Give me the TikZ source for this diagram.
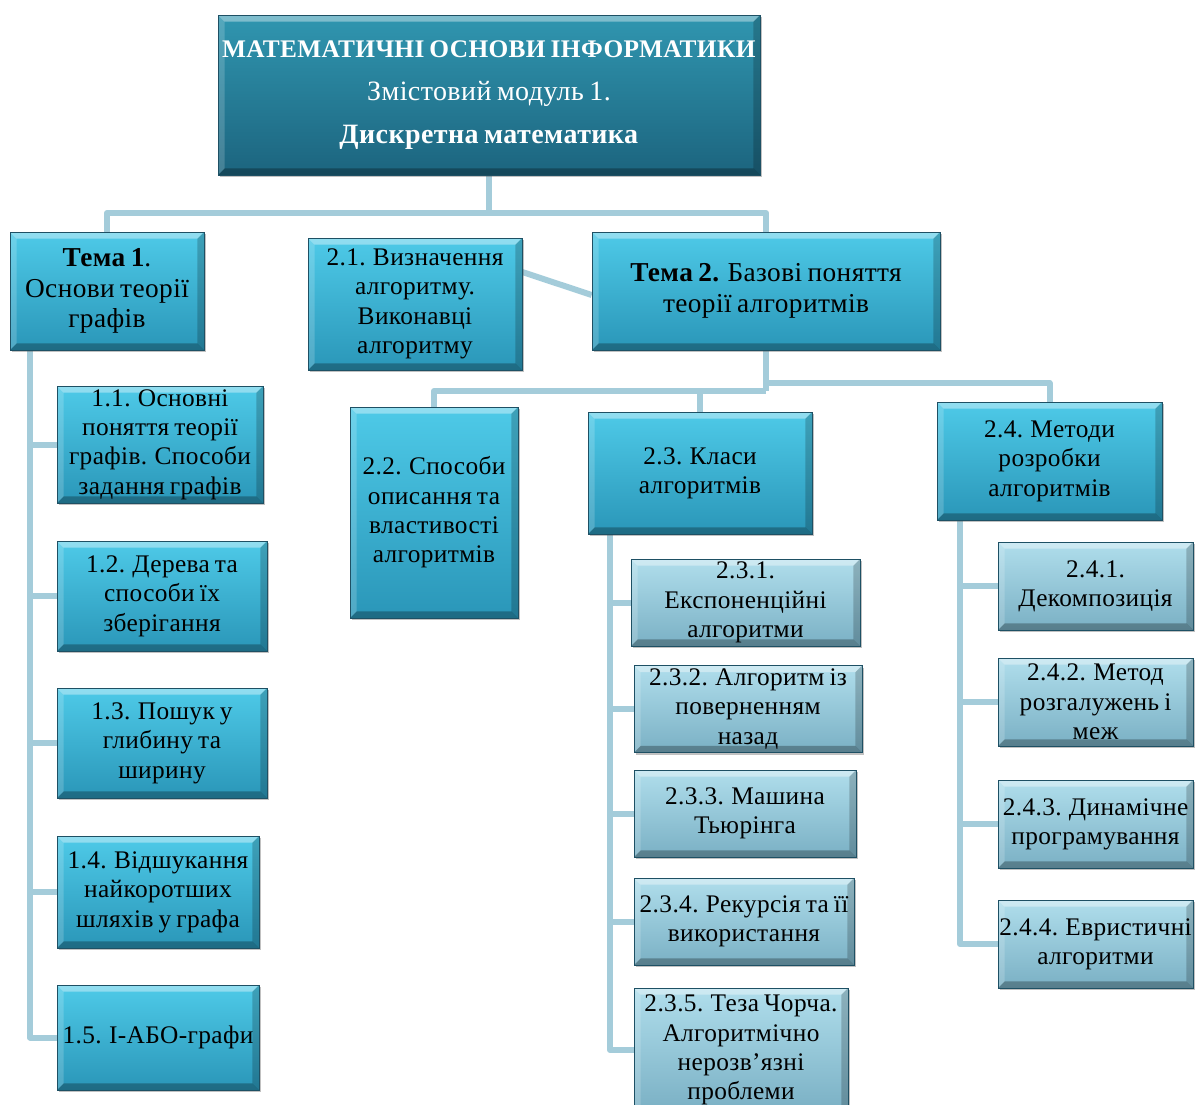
\documentclass[tikz,border=0pt]{standalone}
\usepackage{fontspec}
\setmainfont{Liberation Serif}[LetterSpace=1.5, WordSpace=0.75]
\usetikzlibrary{shadows,backgrounds}

\definecolor{darkTop}{RGB}{48,150,176}
\definecolor{darkBot}{RGB}{28,100,126}
\definecolor{midTop}{RGB}{78,202,232}
\definecolor{midBot}{RGB}{42,150,184}
\definecolor{lightTop}{RGB}{176,222,236}
\definecolor{lightBot}{RGB}{122,176,196}
\definecolor{connC}{RGB}{164,204,218}
\definecolor{edgeC}{RGB}{30,80,100}

\tikzset{
  sz/.style 2 args={minimum width=#1*0.75pt, minimum height=#2*0.75pt},
  bevel/.style={path picture={
    \fill[white,opacity=.38]
      (path picture bounding box.north west) -- (path picture bounding box.north east)
      -- ([shift={(-5pt,-5pt)}]path picture bounding box.north east)
      -- ([shift={(5pt,-5pt)}]path picture bounding box.north west) -- cycle;
    \fill[white,opacity=.18]
      (path picture bounding box.north west) -- (path picture bounding box.south west)
      -- ([shift={(5pt,5pt)}]path picture bounding box.south west)
      -- ([shift={(5pt,-5pt)}]path picture bounding box.north west) -- cycle;
    \fill[black,opacity=.28]
      (path picture bounding box.south west) -- (path picture bounding box.south east)
      -- ([shift={(-5pt,5pt)}]path picture bounding box.south east)
      -- ([shift={(5pt,5pt)}]path picture bounding box.south west) -- cycle;
    \fill[black,opacity=.2]
      (path picture bounding box.north east) -- (path picture bounding box.south east)
      -- ([shift={(-5pt,5pt)}]path picture bounding box.south east)
      -- ([shift={(-5pt,-5pt)}]path picture bounding box.north east) -- cycle;
  }},
  box/.style={rectangle, inner sep=0pt, align=center, text=black,
    draw=edgeC, line width=0.4pt,
    font=\fontsize{19}{22}\selectfont,
    drop shadow={shadow xshift=1.2pt, shadow yshift=-1.6pt, opacity=.35, fill=black!70},
    bevel},
  darkbox/.style={box, top color=darkTop, bottom color=darkBot, text=white,
    font=\fontsize{21}{32.5}\selectfont},
  midbox/.style={box, top color=midTop, bottom color=midBot},
  themebox/.style={midbox, font=\fontsize{20.5}{23}\selectfont},
  lightbox/.style={box, top color=lightTop, bottom color=lightBot},
  conn/.style={draw=connC, line width=4.5pt, line join=round},
}

\begin{document}
\begin{tikzpicture}[x=0.75pt, y=-0.75pt]
\useasboundingbox (0,0) rectangle (1195,1104);

% root
\node[darkbox, sz={542}{160}] (top) at (489,95)
  {{\fontsize{19}{32.5}\selectfont\textbf{МАТЕМАТИЧНІ ОСНОВИ ІНФОРМАТИКИ}}\\Змістовий модуль 1.\\\textbf{Дискретна математика}};

% themes
\node[themebox, sz={194}{118}] (t1) at (107,291) {\textbf{Тема 1}.\\Основи теорії\\графів};
\node[midbox, sz={214}{132}] (b21) at (415,304) {2.1. Визначення\\алгоритму.\\Виконавці\\алгоритму};
\node[themebox, sz={348}{118}] (t2) at (766,291) {\textbf{Тема 2.} Базові поняття\\теорії алгоритмів};

% topic 1
\node[midbox, sz={206}{117}] (b11) at (160,444.5) {1.1. Основні\\поняття теорії\\графів. Способи\\задання графів};
\node[midbox, sz={210}{110}] (b12) at (162,596) {1.2. Дерева та\\способи їх\\зберігання};
\node[midbox, sz={210}{110}] (b13) at (162,743) {1.3. Пошук у\\глибину та\\ширину};
\node[midbox, sz={202}{112}] (b14) at (158,892) {1.4. Відшукання\\найкоротших\\шляхів у графа};
\node[midbox, sz={202}{105}] (b15) at (158,1037.5) {1.5. І-АБО-графи};

% topic 2
\node[midbox, sz={168}{211}] (b22) at (434,512.5) {2.2. Способи\\описання та\\властивості\\алгоритмів};
\node[midbox, sz={224}{122}] (b23) at (700,473) {2.3. Класи\\алгоритмів};
\node[midbox, sz={225}{118}] (b24) at (1049.5,461) {2.4. Методи\\розробки\\алгоритмів};

% classes of algorithms
\node[lightbox, sz={229}{87}] (b231) at (745.5,602.5) {2.3.1.\\Експоненційні\\алгоритми};
\node[lightbox, sz={228}{87}] (b232) at (748,709) {2.3.2. Алгоритм із\\поверненням\\назад};
\node[lightbox, sz={222}{87}] (b233) at (745,813.5) {2.3.3. Машина\\Тьюрінга};
\node[lightbox, sz={220}{87}] (b234) at (744,921.5) {2.3.4. Рекурсія та її\\використання};
\node[lightbox, sz={214}{124}] (b235) at (741,1050) {2.3.5. Теза Чорча.\\Алгоритмічно\\нерозв’язні\\проблеми};

% design methods
\node[lightbox, sz={195}{88}] (b241) at (1095.5,586) {2.4.1.\\Декомпозиція};
\node[lightbox, sz={195}{88}] (b242) at (1095.5,702) {2.4.2. Метод\\розгалужень і\\меж};
\node[lightbox, sz={195}{88}] (b243) at (1095.5,824) {2.4.3. Динамічне\\програмування};
\node[lightbox, sz={195}{88}] (b244) at (1095.5,944) {2.4.4. Евристичні\\алгоритми};

% connectors
\begin{scope}[on background layer]
  \coordinate (j0) at (489,213);
  \coordinate (j2) at (766,391);
  \coordinate (j3) at (766,383);
  \coordinate (lcol) at (30,0);
  \coordinate (mcol) at (610,0);
  \coordinate (rcol) at (960,0);

  \draw[conn] (top.south) -- (j0);
  \draw[conn] (t1.north) |- (j0) -| (t2.north);
  \draw[conn] ([yshift=24pt]b21.east) -- ([yshift=-3pt]t2.west);

  \draw[conn] (t2.south) -- (j2);
  \draw[conn] (b22.north) |- (j2);
  \draw[conn] (b23.north) -- (b23.north |- j2);
  \draw[conn] (j3) -| (b24.north);

  \draw[conn] (t1.south -| lcol) |- (b15.west);
  \foreach \n in {b11,b12,b13,b14} \draw[conn] (\n.west -| lcol) -- (\n.west);

  \draw[conn] (b23.south -| mcol) |- (b235.west);
  \foreach \n in {b231,b232,b233,b234} \draw[conn] (\n.west -| mcol) -- (\n.west);

  \draw[conn] (b24.south -| rcol) |- (b244.west);
  \foreach \n in {b241,b242,b243} \draw[conn] (\n.west -| rcol) -- (\n.west);
\end{scope}
\end{tikzpicture}
\end{document}
